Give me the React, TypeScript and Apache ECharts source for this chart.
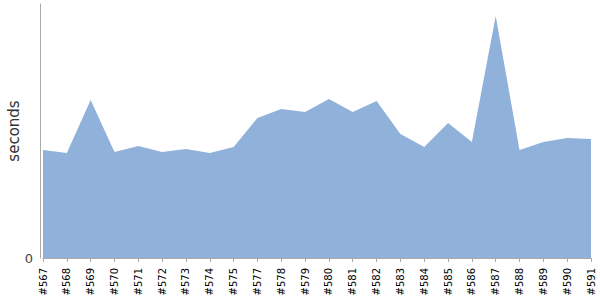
import React, { useEffect, useRef } from "react";
import * as echarts from "echarts";

const builds = ["#567","#568","#569","#570","#571","#572","#573","#574","#575","#577","#578","#579","#580","#581","#582","#583","#584","#585","#586","#587","#588","#589","#590","#591"];
const seconds = [108,105,158,106,112,106,109,105,111,140,149,146,159,146,157,124,111,135,116,242,108,116,120,119];

export default function App() {
  const ref = useRef<HTMLDivElement>(null);
  useEffect(() => {
    const chart = echarts.init(ref.current!, null, { renderer: "svg" });
    chart.setOption({
      animation: false,
      grid: { left: 43, right: 9, top: 4, bottom: 42, containLabel: false, outerBoundsMode: "none" },
      xAxis: {
        type: "category",
        data: builds,
        boundaryGap: false,
        offset: 4,
        axisLine: { lineStyle: { color: "#aaaaaa" } },
        axisTick: { show: true, interval: 0, length: 4, lineStyle: { color: "#aaaaaa" } },
        axisLabel: { rotate: 90, interval: 0, fontSize: 10, color: "#000", fontFamily: "DejaVu Sans", margin: 6 },
        splitLine: { show: false },
      },
      yAxis: {
        type: "value",
        min: 0,
        max: 254,
        interval: 254,
        offset: 3,
        name: "seconds",
        nameLocation: "middle",
        nameGap: 19,
        nameMoveOverlap: false,
        nameTextStyle: { fontSize: 15, color: "#333", fontFamily: "DejaVu Sans" },
        axisLine: { show: true, lineStyle: { color: "#aaaaaa" } },
        axisTick: { show: false },
        splitLine: { show: false },
        axisLabel: { formatter: (v: number) => (v === 0 ? "0" : ""), fontSize: 13, color: "#444", fontFamily: "DejaVu Sans", margin: 7 },
      },
      series: [
        {
          type: "line",
          data: seconds,
          symbol: "none",
          lineStyle: { width: 0 },
          areaStyle: { color: "#8fb1da", opacity: 1 },
        },
      ],
    });
    return () => chart.dispose();
  }, []);
  return <div ref={ref} style={{ width: 600, height: 300, position: "absolute", left: 0, top: 0 }} />;
}
